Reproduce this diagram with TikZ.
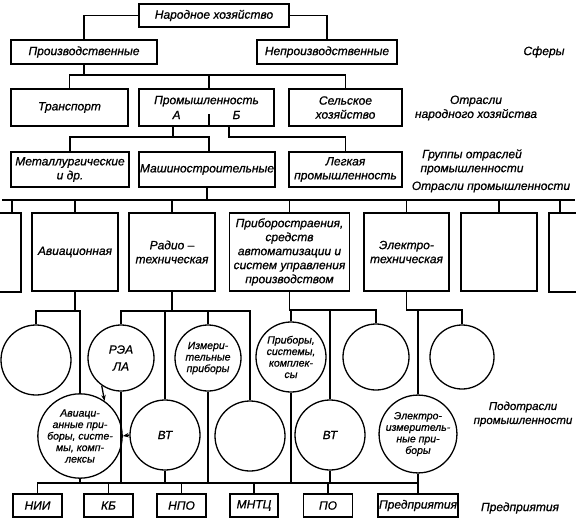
\documentclass[tikz,border=0pt]{standalone}
\usepackage{fontspec}
\setmainfont{Liberation Sans}[FakeBold=0.8]
\usetikzlibrary{arrows.meta}
\begin{document}
\begin{tikzpicture}[x=1pt,y=-1pt,
  ln/.style={line width=1.3pt},
  box/.style={draw, line width=1.3pt, rectangle, inner sep=1pt, align=center, font=\fontsize{12}{14}\selectfont\itshape},
  circ/.style={draw, circle, line width=1.3pt, inner sep=0pt, align=center, font=\fontsize{10.5}{11.5}\selectfont\itshape},
  lbl/.style={align=center, font=\fontsize{12}{14}\selectfont\itshape},
  arr/.style={line width=1.3pt, -{Stealth[length=6pt,width=4.5pt]}}]
\useasboundingbox (0,0) rectangle (576,525);

% ---- boxes, top part
\node[box, minimum width=150, minimum height=23] (nh) at (214,15.5) {Народное хозяйство};
\node[box, minimum width=146, minimum height=24] (pr) at (84,52) {Производственные};
\node[box, minimum width=140, minimum height=24] (np) at (327,52) {Непроизводственные};
\node[box, minimum width=117, minimum height=37] (tr) at (69.5,107.5) {Транспорт};
\node[box, minimum width=135, minimum height=37] (pm) at (206.5,107.5) {Промышленность\\[1pt]А\hspace{52pt}Б};
\node[box, minimum width=113, minimum height=37] (sh) at (345.5,107.5) {Сельское\\хозяйство};
\node[box, minimum width=118, minimum height=35] (mt) at (70,169.5) {Металлургические\\и др.};
\node[box, minimum width=136, minimum height=35] (ms) at (207,169.5) {Машиностроительные};
\node[box, minimum width=113, minimum height=35] (lp) at (345.5,169.5) {Легкая\\промышленность};

% ---- industry branches
\node[box, minimum width=32, minimum height=79] (lpart) at (5,252.5) {};
\node[box, minimum width=86, minimum height=78] (av) at (75,252) {Авиационная};
\node[box, minimum width=86, minimum height=78] (rd) at (172,252) {Радио –\\техническая};
\node[box, minimum width=120, minimum height=78] (pb) at (289.5,252) {Приборостраения,\\средств\\автоматизации и\\систем управления\\производством};
\node[box, minimum width=85, minimum height=78] (el) at (406.5,252) {Электро-\\техническая};
\node[box, minimum width=76, minimum height=78] (bl) at (499,252) {};
\node[box, minimum width=42, minimum height=79] (rpart) at (570,252.5) {};

% ---- sub-branches (circles)
\node[circ, minimum size=70] (c1) at (36,360) {};
\node[circ, minimum size=66, font=\fontsize{12}{14}\selectfont\itshape] (rea) at (121,358) {РЭА\\[3pt]ЛА};
\node[circ, minimum size=66] (izm) at (208,358) {Измери-\\тельные\\приборы};
\node[circ, minimum size=70] (prs) at (291,357) {Приборы,\\системы,\\комплек-\\сы};
\node[circ, minimum size=66] (bl2) at (376,357) {};
\node[circ, minimum size=64] (bl3) at (462,357) {};
\node[circ, minimum size=68] (avp) at (80,436) {Авиаци-\\анные при-\\боры, систе-\\мы, комп-\\лексы};
\node[circ, minimum size=70, font=\fontsize{12}{14}\selectfont\itshape] (vt1) at (165,435) {ВТ};
\node[circ, minimum size=70] (bl4) at (250,436) {};
\node[circ, minimum size=70, font=\fontsize{12}{14}\selectfont\itshape] (vt2) at (330,435) {ВТ};
\node[circ, minimum size=68] (eip) at (418,434) {Электро-\\измеритель-\\ные при-\\боры};

% ---- enterprises
\node[box, minimum width=49, minimum height=23] (nii) at (37.5,505.5) {НИИ};
\node[box, minimum width=49, minimum height=23] (kb) at (108.5,505.5) {КБ};
\node[box, minimum width=49, minimum height=23] (npo) at (181.5,505.5) {НПО};
\node[box, minimum width=48, minimum height=23] (mntc) at (254,505.5) {МНТЦ};
\node[box, minimum width=49, minimum height=23] (po) at (328,505.5) {ПО};
\node[box, minimum width=80, minimum height=23] (pred) at (418,505.5) {Предприятия};

% ---- right-hand labels
\node[lbl] (sf) at (544,52) {Сферы};
\node[lbl] (onx) at (476,108) {Отрасли\\народного хозяйства};
\node[lbl] (grp) at (472,162) {Группы отраслей\\промышленности};
\node[lbl] (opr) at (491,187) {Отрасли промышленности};
\node[lbl, font=\fontsize{11.5}{14}\selectfont\itshape] (podo) at (523,414) {Подотрасли\\промышленности};
\node[lbl] (predl) at (520,508) {Предприятия};

% ---- connectors, top part
\draw[ln] (nh.west) -| (pr.north);
\draw[ln] (nh.east) -| (np.north);
\draw[ln] (pr.south) -- (pr.south |- 0,75);
\draw[ln] (tr.north) |- (sh.north |- 0,75) -- (sh.north);
\draw[ln] ([xshift=2.5]pm.north) -- ([xshift=2.5]pm.north |- 0,75);
\draw[ln] ([xshift=2.5]pm.south) -- ++(0,-13);
\draw[ln] ([xshift=-33.5]pm.south) -- ++(0,11);
\draw[ln] (mt.north) |- ([xshift=2]ms.north |- 0,137) -- ([xshift=2]ms.north);
\draw[ln] ([xshift=22.5]pm.south) |- (lp.north |- 0,137) -- (lp.north);

% ---- bus of industry branches
\coordinate (busL) at (2,200);
\coordinate (busR) at (575,200);
\draw[ln] (ms.south) -- (ms.south |- busL);
\draw[ln] (busL) -- (busR);
\foreach \n in {av,rd,pb,el,bl} \draw[ln] (\n.north) -- (\n.north |- busL);
\draw[ln] ([xshift=7]lpart.north) -- ([xshift=7]lpart.north |- busL);
\draw[ln] ([xshift=-10]rpart.north) -- ([xshift=-10]rpart.north |- busL);

% ---- branches to sub-branches
\draw[ln] (av.south) -- (av.south |- 0,311);
\draw[ln] (c1.north) |- (avp.north |- 0,311) -- (avp.north);
\draw[ln] (rd.south) -- (rd.south |- 0,311);
\draw[ln] (rea.north) |- (bl4.north |- 0,311) -- (bl4.north);
\draw[ln] (vt1.north) -- (vt1.north |- 0,311);
\draw[ln] (izm.north) -- (izm.north |- 0,311);
\draw[ln] (pb.south) |- (bl2.north |- 0,310) -- (bl2.north);
\draw[ln] (prs.north) -- (prs.north |- 0,310);
\draw[ln] (vt2.north) -- (vt2.north |- 0,310);
\draw[ln] (el.south) |- (bl3.north |- 0,310) -- (bl3.north);
\draw[ln] (eip.north) -- (eip.north |- 0,310);

% ---- sub-branches to enterprises
\draw[ln] (nii.north) |- (pred.north |- 0,483);
\draw[ln] (eip.south) -- (pred.north);
\foreach \n in {kb,npo,mntc,po} \draw[ln] (\n.north) -- (\n.north |- 0,483);
\foreach \n in {avp,rea,vt1,izm,prs,vt2} \draw[ln] (\n.south) -- (\n.south |- 0,483);

% ---- arrows
\draw[arr] (rea.235) -- (avp.55);
\draw[arr] (vt1.west) -- (avp.east);
\end{tikzpicture}
\end{document}
